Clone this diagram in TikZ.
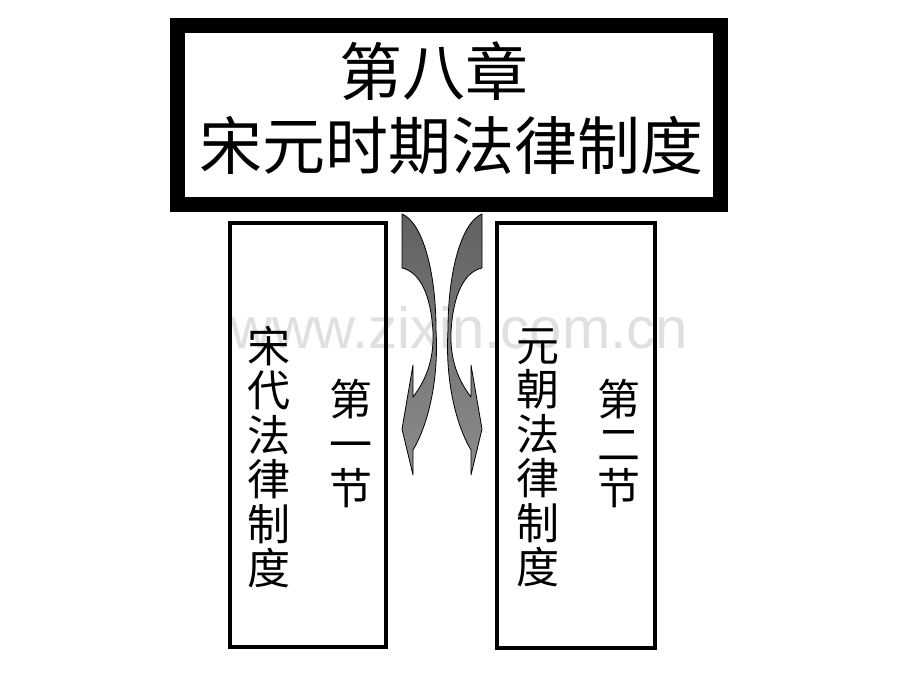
\documentclass[tikz,border=0pt]{standalone}
\usepackage{fontspec}
\newfontfamily\cjk{Noto Sans CJK SC}
\newfontfamily\wmfont{Liberation Sans}
\begin{document}
\begin{tikzpicture}[x=1pt,y=-1pt,
  framebox/.style={draw=black,line width=4pt},
  bigframe/.style={draw=black,fill=white,line width=15pt},
  curvearrow/.style={draw=black,line width=0.8pt,top color=black!62,bottom color=black!45,line join=round},
  coltext/.style={inner sep=0pt,align=center,font=\cjk\fontsize{43}{44.5}\selectfont},
  titletext/.style={inner sep=0pt,font=\cjk\fontsize{63}{70}\selectfont}]
\useasboundingbox (0,0) rectangle (920,690);
\fill[white] (0,0) rectangle (920,690);
% watermark
\node[font=\wmfont\fontsize{58}{60}\selectfont,text=black!12,inner sep=0pt] (wm) at (459,328) {www.zixin.com.cn};
% title box
\draw[bigframe] (177.5,25.5) rectangle (720.5,204.5);
\node[titletext] (t1) at (434,71) {第八章};
\node[titletext] (t2) at (451,146) {宋元时期法律制度};
% section boxes
\draw[framebox] (230,223) rectangle (386,647);
\draw[framebox] (497,223) rectangle (655,648);
\node[coltext] (l1) at (269,457) {宋\\代\\法\\律\\制\\度};
\node[coltext] (l2) at (351,444) {第\\一\\节};
\node[coltext] (r1) at (538,458) {元\\朝\\法\\律\\制\\度};
\node[coltext] (r2) at (619,444) {第\\二\\节};
% curved arrows
\path[curvearrow] (402,214) .. controls (422,222) and (436,270) .. (436,330)
  .. controls (439,380) and (428,425) .. (413,450)
  -- (413,475) -- (402,429) -- (413,365) -- (413,397)
  .. controls (426,380) and (434,360) .. (433,332)
  .. controls (431,295) and (420,272) .. (402,268) -- cycle;
\begin{scope}[shift={(884,0)},xscale=-1]
\path[curvearrow] (402,214) .. controls (422,222) and (436,270) .. (436,330)
  .. controls (439,380) and (428,425) .. (413,450)
  -- (413,475) -- (402,429) -- (413,365) -- (413,397)
  .. controls (426,380) and (434,360) .. (433,332)
  .. controls (431,295) and (420,272) .. (402,268) -- cycle;
\end{scope}
\end{tikzpicture}
\end{document}
